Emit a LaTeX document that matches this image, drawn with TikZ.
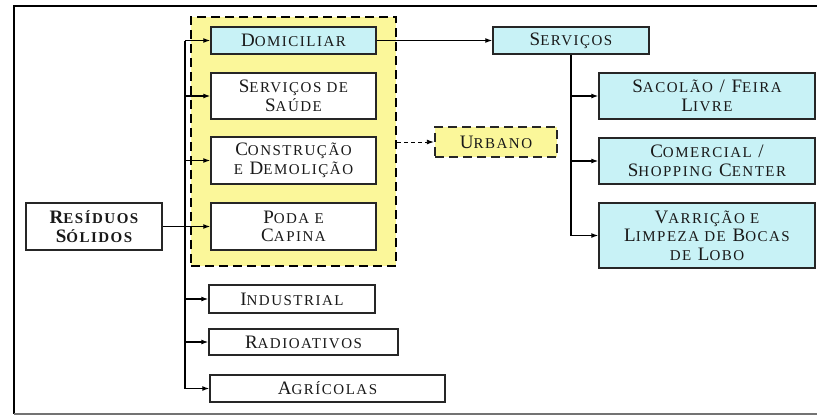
\documentclass[tikz,border=0pt]{standalone}
\usepackage{fontspec}
\setmainfont{Liberation Serif}[LetterSpace=10]
\usetikzlibrary{arrows.meta}
\newcommand\sm[1]{{\fontsize{15}{18}\selectfont #1}}
\definecolor{cybox}{HTML}{C8F2F6}
\definecolor{ylw}{HTML}{FBF79A}
\begin{document}
\begin{tikzpicture}[x=1pt,y=-1pt,
  box/.style={draw=black!85,line width=1.5pt,inner sep=0pt,align=center,
    font=\fontsize{19}{18.5}\selectfont,text=black!90},
  cy/.style={box,fill=cybox},
  wh/.style={box,fill=white},
  arr/.style={line width=1.2pt,-{Latex[length=7pt,width=5pt]}},
  ln/.style={line width=1.2pt}]
\useasboundingbox (0,0) rectangle (817,416);
% frame
\draw[line width=2.8pt] (817,6) -- (14,6) -- (14,414);
\draw[line width=1.5pt,black!55] (14,414) -- (817,414);
% yellow group
\node[draw,fill=ylw,line width=2.4pt,dash pattern=on 9pt off 5pt,
  minimum width=205,minimum height=249,inner sep=0pt] (grp) at (293.5,141.5) {};
% nodes
\node[cy,minimum width=165,minimum height=27] (dom) at (293.5,40.5) {D\sm{OMICILIAR}};
\node[wh,minimum width=165,minimum height=46] (sau) at (293.5,96) {S\sm{ERVIÇOS DE}\\S\sm{AÚDE}};
\node[wh,minimum width=165,minimum height=47] (con) at (293.5,160.5) {C\sm{ONSTRUÇÃO}\\\sm{E} D\sm{EMOLIÇÃO}};
\node[wh,minimum width=165,minimum height=47] (pod) at (293.5,226.5) {P\sm{ODA E}\\C\sm{APINA}};
\node[wh,minimum width=136,minimum height=47,font=\fontsize{19}{18.5}\selectfont\bfseries] (res) at (94,226.5) {R\sm{ESÍDUOS}\\S\sm{ÓLIDOS}};
\node[wh,minimum width=166,minimum height=28] (ind) at (292,299) {I\sm{NDUSTRIAL}};
\node[wh,minimum width=189,minimum height=26] (rad) at (303.5,342) {R\sm{ADIOATIVOS}};
\node[wh,minimum width=235,minimum height=27] (agr) at (327.5,388.5) {A\sm{GRÍCOLAS}};
\node[cy,minimum width=156,minimum height=27] (ser) at (571,40.5) {S\sm{ERVIÇOS}};
\node[cy,minimum width=216,minimum height=46] (sac) at (707,96) {S\sm{ACOLÃO} / F\sm{EIRA}\\L\sm{IVRE}};
\node[cy,minimum width=216,minimum height=46] (com) at (707,161) {C\sm{OMERCIAL} /\\S\sm{HOPPING} C\sm{ENTER}};
\node[cy,minimum width=216,minimum height=65] (var) at (707,235.5) {V\sm{ARRIÇÃO E}\\L\sm{IMPEZA DE} B\sm{OCAS}\\\sm{DE} L\sm{OBO}};
\node[box,fill=ylw,line width=2.4pt,dash pattern=on 9pt off 5pt,minimum width=122,minimum height=30] (urb) at (496,142) {U\sm{RBANO}};
% trunk left
\coordinate (tx) at (185,0);
\draw[ln] (dom.west -| tx) -- (agr.west -| tx);
\draw[ln] (res.east) -- (pod.west -| tx);
\foreach \n in {dom,sau,con,pod,ind,rad,agr}
  \draw[arr] (\n.west -| tx) -- (\n.west);
% services
\draw[arr] (dom.east) -- (ser.west);
\draw[ln] (ser.south) -- (ser.south |- var.west);
\foreach \n in {sac,com,var}
  \draw[arr] (ser.south |- \n.west) -- (\n.west);
% urbano
\draw[line width=0.9pt,dash pattern=on 4pt off 3pt,-{Latex[length=7pt,width=5pt]}] (grp.east |- urb.west) -- (urb.west);
\end{tikzpicture}
\end{document}
